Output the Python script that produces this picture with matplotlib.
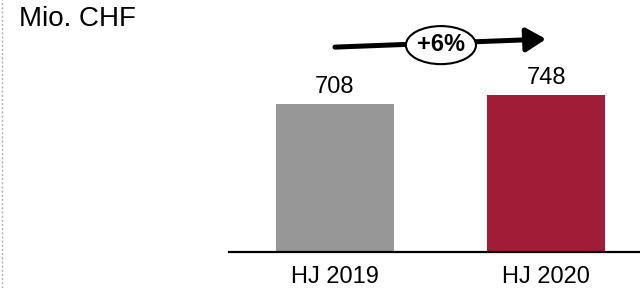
import matplotlib
matplotlib.use("Agg")
from matplotlib import pyplot as plt
from matplotlib.lines import Line2D
from matplotlib.patches import Ellipse

plt.rcParams['font.family'] = ['Liberation Sans', 'DejaVu Sans']

periods = ['HJ 2019', 'HJ 2020']
values = [708, 748]
bar_colors = ['#979797', '#A11C37']
unit_label = 'Mio. CHF'
growth_label = '+6%'

fig = plt.figure(figsize=(6.4, 2.88), dpi=100)
ax = fig.add_axes([229/640, 36/288, 411/640, 252/288])

x = list(range(len(values)))
ax.bar(x, values, width=0.56, color=bar_colors)
for xi, v in zip(x, values):
    ax.annotate(str(v), (xi, v), xytext=(0, 8), textcoords='offset points',
                ha='center', va='baseline', fontsize=17)

ax.set_xlim(-0.502, 1.445)
ax.set_ylim(0, 1203)
ax.set_xticks(x)
ax.set_xticklabels(periods, fontsize=17)
ax.tick_params(axis='x', length=0, pad=10)
ax.set_yticks([])
for side in ['left', 'right', 'top']:
    ax.spines[side].set_visible(False)
ax.spines['bottom'].set_linewidth(1.6)

# growth arrow between the two bars, with the ellipse label in the middle
ax.annotate('', xy=(1.0, 0.845), xytext=(0.0, 0.813),
            xycoords=('data', 'axes fraction'), textcoords=('data', 'axes fraction'),
            arrowprops=dict(arrowstyle='-|>,head_length=0.6,head_width=0.36',
                            mutation_scale=20, lw=3.6, color='black',
                            shrinkA=0, shrinkB=0))
trans = ax.get_xaxis_transform()
ax.add_patch(Ellipse((0.502, 0.821), 0.332, 0.151, transform=trans,
                     fc='white', ec='black', lw=1.5, zorder=5, clip_on=False))
ax.text(0.502, 0.823, growth_label, transform=trans, zorder=6,
        ha='center', va='center', fontsize=17, fontweight='bold')

fig.text(19/640, 1 - 19/288, unit_label, ha='left', va='center', fontsize=20)
fig.add_artist(Line2D([1.5/640, 1.5/640], [0, 1], transform=fig.transFigure,
                      color='#b0b0b0', lw=1, ls=(0, (1.5, 1.5))))

fig.savefig('out.png', dpi=100)
